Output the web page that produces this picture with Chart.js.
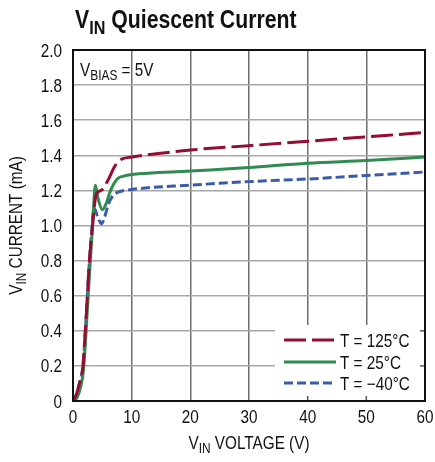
<!DOCTYPE html>
<html>
<head>
<meta charset="utf-8">
<script src="https://cdn.jsdelivr.net/npm/chart.js@4"></script>
<style>
  html, body { margin: 0; padding: 0; background: #fff; }
  #wrap { width: 435px; height: 462px; }
</style>
</head>
<body>
<div id="wrap"><canvas id="chart" width="435" height="462"></canvas></div>
<script>
// values
const vHot = [0, 0.5, 1.1, 1.7, 2.1, 2.45, 2.8, 3.25, 3.6, 4.0, 4.8, 6.0, 7.0, 7.7, 8.4, 10, 20, 30, 40, 50, 60];
const iHot = [0, 0.03, 0.10, 0.20, 0.40, 0.60, 0.80, 0.97, 1.10, 1.18, 1.20, 1.26, 1.33, 1.365, 1.38, 1.39, 1.43, 1.455, 1.48, 1.505, 1.53];

const vRoom = [0, 0.7, 1.3, 1.8, 2.2, 2.55, 2.95, 3.35, 3.8, 4.3, 5.0, 5.6, 6.3, 7.0, 7.7, 8.5, 10, 20, 30, 40, 50, 60];
const iRoom = [0, 0.02, 0.08, 0.18, 0.38, 0.58, 0.80, 1.00, 1.23, 1.15, 1.09, 1.12, 1.19, 1.24, 1.27, 1.28, 1.29, 1.31, 1.33, 1.355, 1.37, 1.39];

const vCold = [0, 0.5, 1.1, 1.7, 2.1, 2.45, 2.8, 3.2, 3.6, 4.2, 4.85, 5.5, 6.0, 6.8, 7.7, 10, 20, 30, 40, 50, 60];
const iCold = [0, 0.03, 0.10, 0.20, 0.40, 0.60, 0.80, 0.98, 1.10, 1.05, 1.01, 1.06, 1.12, 1.17, 1.19, 1.205, 1.23, 1.25, 1.265, 1.285, 1.305];

const seriesLabels = ['T = 125°C', 'T = 25°C', 'T = \u221240°C'];
const xTicks = [0, 10, 20, 30, 40, 50, 60];
const yTicks = [0, 0.2, 0.4, 0.6, 0.8, 1.0, 1.2, 1.4, 1.6, 1.8, 2.0];

const FONT = "'Liberation Sans', Arial, sans-serif";
const SX = 0.85; // squeeze to look like a condensed face

function pts(xs, ys) {
    return xs.map((x, i) => ({ x: x, y: ys[i] }));
}

// text pieces, e.g. [['V'], ['IN', true], [' CURRENT']] (true = subscript)
function richWidth(ctx, parts, size, weight) {
    let w = 0;
    parts.forEach(p => {
        ctx.font = (weight || '') + ' ' + (p[1] ? Math.round(size * 0.75) : size) + 'px ' + FONT;
        w += ctx.measureText(p[0]).width;
    });
    return w * SX;
}
// align: 'left' | 'center' | 'right'
function drawRich(ctx, parts, x, y, size, weight, align) {
    const w = richWidth(ctx, parts, size, weight);
    if (align === 'center') x -= w / 2;
    if (align === 'right') x -= w;
    ctx.save();
    ctx.translate(x, y);
    ctx.scale(SX, 1);
    ctx.textBaseline = 'alphabetic';
    ctx.textAlign = 'left';
    let cx = 0;
    parts.forEach(p => {
        const s = p[1] ? Math.round(size * 0.75) : size;
        ctx.font = (weight || '') + ' ' + s + 'px ' + FONT;
        ctx.fillText(p[0], cx, p[1] ? size * 0.22 : 0);
        cx += ctx.measureText(p[0]).width;
    });
    ctx.restore();
}

const decor = {
    id: 'decor',
    beforeDatasetsDraw(chart) {
        const ctx = chart.ctx;
        const xs = chart.scales.x, ys = chart.scales.y;
        const a = chart.chartArea;
        ctx.save();
        ctx.fillStyle = '#fff';
        // V_BIAS box (0-10 V, 1.8-2.0 mA)
        ctx.fillRect(a.left, a.top, xs.getPixelForValue(10) - a.left - 1, ys.getPixelForValue(1.8) - a.top - 1);
        // legend box
        const lx = 275, ly = 325;
        ctx.fillRect(lx, ly, a.right - lx, a.bottom - ly);
        // small inner ticks inside legend box
        ctx.strokeStyle = '#555';
        ctx.lineWidth = 1.5;
        [40, 50].forEach(v => {
            const px = xs.getPixelForValue(v);
            ctx.beginPath();
            ctx.moveTo(px, a.bottom);
            ctx.lineTo(px, a.bottom - 5);
            ctx.stroke();
        });
        [0.2, 0.4].forEach(v => {
            const py = ys.getPixelForValue(v);
            if (py < ly) return;
            ctx.beginPath();
            ctx.moveTo(a.right, py);
            ctx.lineTo(a.right - 5, py);
            ctx.stroke();
        });
        ctx.restore();
    },
    afterDatasetsDraw(chart) {
        const ctx = chart.ctx;
        const a = chart.chartArea;
        const xs = chart.scales.x, ys = chart.scales.y;
        ctx.save();
        // frame
        ctx.strokeStyle = '#111';
        ctx.lineWidth = 2;
        ctx.strokeRect(a.left, a.top, a.right - a.left, a.bottom - a.top);

        ctx.fillStyle = '#111';
        // tick labels
        xs.ticks.forEach(t => {
            drawRich(ctx, [[String(t.value)]], xs.getPixelForValue(t.value), 423, 18, '', 'center');
        });
        ys.ticks.forEach(t => {
            const lab = t.value === 0 ? '0' : t.value.toFixed(1);
            drawRich(ctx, [[lab]], 62, ys.getPixelForValue(t.value) + 6.5, 18, '', 'right');
        });
        // title
        drawRich(ctx, [['V'], ['IN', true], [' Quiescent Current']], 75, 28, 25, 'bold');
        // V_BIAS note
        drawRich(ctx, [['V'], ['BIAS', true], [' = 5V']], 80, 76, 18);
        // x axis title
        drawRich(ctx, [['V'], ['IN', true], [' VOLTAGE (V)']], (a.left + a.right) / 2, 449, 18, '', 'center');
        // y axis title
        ctx.save();
        ctx.translate(22, (a.top + a.bottom) / 2);
        ctx.rotate(-Math.PI / 2);
        drawRich(ctx, [['V'], ['IN', true], [' CURRENT (mA)']], 0, 0, 18, '', 'center');
        ctx.restore();

        // legend
        const rows = [340, 362, 383];
        chart.data.datasets.forEach((ds, i) => {
            const y = rows[i];
            ctx.strokeStyle = ds.borderColor;
            ctx.lineWidth = 3;
            ctx.setLineDash(ds.borderDash || []);
            ctx.beginPath();
            ctx.moveTo(284, y);
            ctx.lineTo(336, y);
            ctx.stroke();
            ctx.setLineDash([]);
            ctx.fillStyle = '#111';
            drawRich(ctx, [[ds.label]], 340, y + 6.5, 18);
        });
        ctx.restore();
    }
};

new Chart(document.getElementById('chart'), {
    type: 'line',
    data: {
        datasets: [{
            label: seriesLabels[0],
            data: pts(vHot, iHot),
            borderColor: '#960C32',
            borderWidth: 3,
            borderDash: [22, 6],
            pointRadius: 0,
            cubicInterpolationMode: 'monotone'
        }, {
            label: seriesLabels[1],
            data: pts(vRoom, iRoom),
            borderColor: '#2F8C4E',
            borderWidth: 3,
            pointRadius: 0,
            cubicInterpolationMode: 'monotone'
        }, {
            label: seriesLabels[2],
            data: pts(vCold, iCold),
            borderColor: '#3A5BAA',
            borderWidth: 3,
            borderDash: [9, 4],
            pointRadius: 0,
            cubicInterpolationMode: 'monotone'
        }]
    },
    options: {
        responsive: false,
        animation: false,
        layout: { padding: { top: 50, right: 10, left: 0, bottom: 0 } },
        plugins: {
            legend: { display: false },
            tooltip: { enabled: false }
        },
        scales: {
            x: {
                type: 'linear',
                min: 0,
                max: 60,
                afterBuildTicks: s => { s.ticks = xTicks.map(v => ({ value: v })); },
                afterFit: s => { s.height = 61; },
                grid: { color: '#6e6e6e', lineWidth: 1.5, drawTicks: false },
                border: { display: false },
                ticks: { display: false }
            },
            y: {
                min: 0,
                max: 2,
                afterBuildTicks: s => { s.ticks = yTicks.map(v => ({ value: v })); },
                afterFit: s => { s.width = 73; },
                grid: { color: '#a8a8a8', lineWidth: 1.5, drawTicks: false },
                border: { display: false },
                ticks: { display: false }
            }
        }
    },
    plugins: [decor]
});
</script>
</body>
</html>
